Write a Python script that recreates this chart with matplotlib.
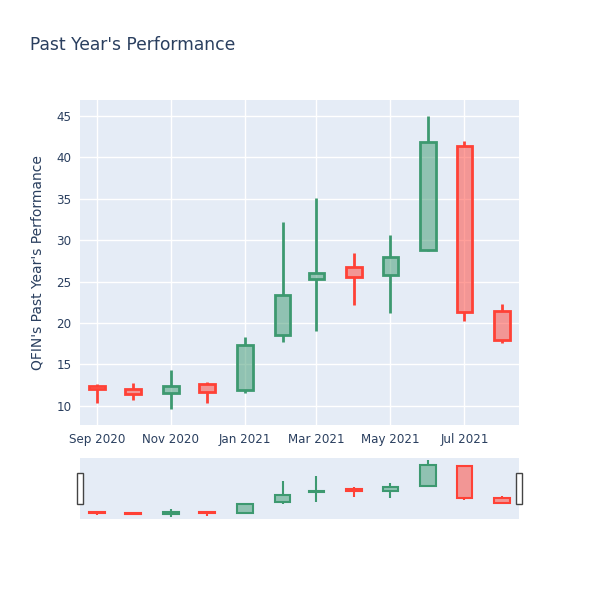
from datetime import datetime

import matplotlib.pyplot as plt
import matplotlib.dates as mdates
from matplotlib.patches import Rectangle

months = ['2020-09-01', '2020-10-01', '2020-11-01', '2020-12-01', '2021-01-01', '2021-02-01',
          '2021-03-01', '2021-04-01', '2021-05-01', '2021-06-01', '2021-07-01', '2021-08-01']
opens = [12.4, 12.1, 11.5, 12.7, 11.9, 18.6, 25.3, 26.7, 25.8, 28.8, 41.3, 21.4]
highs = [12.65, 12.75, 14.3, 12.9, 18.3, 32.2, 35.1, 28.4, 30.6, 45.0, 41.9, 22.3]
lows = [10.4, 10.7, 9.6, 10.3, 11.6, 17.7, 19.0, 22.2, 21.2, 28.7, 20.2, 17.6]
closes = [12.0, 11.4, 12.4, 11.7, 17.4, 23.4, 26.0, 25.5, 28.0, 41.8, 21.3, 18.0]

tick_dates = ['2020-09-01', '2020-11-01', '2021-01-01', '2021-03-01', '2021-05-01', '2021-07-01']
tick_labels = ['Sep 2020', 'Nov 2020', 'Jan 2021', 'Mar 2021', 'May 2021', 'Jul 2021']

dates = [datetime.strptime(d, '%Y-%m-%d') for d in months]
ticks = [datetime.strptime(d, '%Y-%m-%d') for d in tick_dates]

up_color = '#3D9970'
down_color = '#FF4136'
bg = '#E5ECF6'
text_color = '#2a3f5f'


def draw_candles(ax, lw):
    for d, o, h, l, c in zip(dates, opens, highs, lows, closes):
        col = up_color if c >= o else down_color
        top, bot = max(o, c), min(o, c)
        ax.vlines(d, top, h, color=col, linewidth=lw, zorder=3)
        ax.vlines(d, l, bot, color=col, linewidth=lw, zorder=3)
        ax.bar(d, top - bot, width=13, bottom=bot, facecolor=col, alpha=0.5,
               edgecolor='none', zorder=3)
        ax.bar(d, top - bot, width=13, bottom=bot, facecolor='none',
               edgecolor=col, linewidth=lw, zorder=4)


fig = plt.figure(figsize=(6, 6), dpi=100)
ax = fig.add_axes([80 / 600, 1 - 425 / 600, 439 / 600, 325 / 600])
ax.set_facecolor(bg)
draw_candles(ax, 2)

xmin = datetime(2020, 8, 18)
xmax = datetime(2021, 8, 15)
ax.set_xlim(xmin, xmax)
ax.set_ylim(7.7, 46.9)
ax.set_yticks([10, 15, 20, 25, 30, 35, 40, 45])
ax.set_xticks(ticks)
ax.set_xticklabels(tick_labels)
ax.grid(True, color='white', linewidth=1)
ax.set_axisbelow(True)
for s in ax.spines.values():
    s.set_visible(False)
ax.tick_params(length=0, labelsize=8.6, colors=text_color, pad=6)
ax.set_ylabel("QFIN's Past Year's Performance", fontsize=10, color=text_color, labelpad=9)

fig.text(30 / 600, 1 - 45 / 600, "Past Year's Performance", fontsize=12.3, color=text_color,
         va='center', ha='left')

# range slider
sl = fig.add_axes([80 / 600, 1 - 519 / 600, 439 / 600, 61 / 600])
sl.set_facecolor(bg)
draw_candles(sl, 1.5)
sl.set_xlim(xmin, xmax)
sl.set_ylim(8.2, 46.3)
sl.set_xticks([])
sl.set_yticks([])
for s in sl.spines.values():
    s.set_visible(False)
for x in [0, 1]:
    sl.add_patch(Rectangle((x - 0.006, 0.25), 0.012, 0.5, transform=sl.transAxes,
                           facecolor='white', edgecolor='#444444', linewidth=1,
                           clip_on=False, zorder=5))

fig.savefig('out.png', dpi=100)
